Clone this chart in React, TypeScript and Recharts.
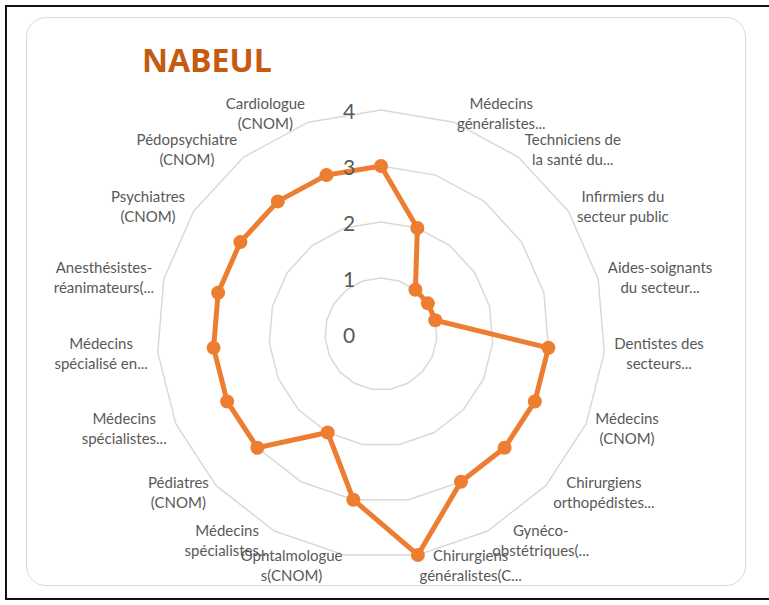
import React from "react";
import {
  RadarChart,
  Radar,
  PolarGrid,
  PolarAngleAxis,
  PolarRadiusAxis,
} from "recharts";

// categories clockwise from the top; "\n" marks where the label wraps
const categories = [
  "",
  "Médecins\ngénéralistes...",
  "Techniciens de\nla santé du...",
  "Infirmiers du\nsecteur public",
  "Aides-soignants\ndu secteur...",
  "Dentistes des\nsecteurs...",
  "Médecins\n(CNOM)",
  "Chirurgiens\northopédistes...",
  "Gynéco-\nobstétriques(...",
  "Chirurgiens\ngénéralistes(C...",
  "Ophtalmologue\ns(CNOM)",
  "Médecins\nspécialistes...",
  "Pédiatres\n(CNOM)",
  "Médecins\nspécialistes...",
  "Médecins\nspécialisé en...",
  "Anesthésistes-\nréanimateurs(...",
  "Psychiatres\n(CNOM)",
  "Pédopsychiatre\n(CNOM)",
  "Cardiologue\n(CNOM)",
];

const scores = [3, 2, 1, 1, 1, 3, 3, 3, 3, 4, 3, 2, 3, 3, 3, 3, 3, 3, 3];

const radiusTicks = [0, 1, 2, 3, 4];

const title = "NABEUL";

// idx keeps the two identical "Médecins spécialistes..." labels apart
const chartData = categories.map((name, i) => ({ idx: i, name, value: scores[i] }));

const CX = 381;
const CY = 334;
const OUTER = 224;
const LABEL_R = 234;
const LABEL_FONT = "15px Lato";
const LINE_H = 20;
const ORANGE = "#ED7D31";

let ctx: CanvasRenderingContext2D | null = null;
function textWidth(s: string): number {
  if (!ctx) ctx = document.createElement("canvas").getContext("2d");
  if (!ctx) return s.length * 7;
  ctx.font = LABEL_FONT;
  return ctx.measureText(s).width;
}

// excel-like placement: box sits beside the point on a circle, lines centred in it
function AngleTick(props: any) {
  const { x, y, payload } = props;
  const text: string = categories[Number(payload?.value)] ?? "";
  if (!text) return null;
  const ang = Math.atan2(-(y - CY), x - CX);
  const px = CX + LABEL_R * Math.cos(ang);
  const py = CY - LABEL_R * Math.sin(ang);
  const c = Math.cos(ang);
  const side = c > 0.02 ? 1 : c < -0.02 ? -1 : 0;
  const lines = text.split("\n");
  const w = Math.max(...lines.map(textWidth));
  const bx = px + (side * w) / 2;
  const top = py - ((lines.length - 1) * LINE_H) / 2;
  return (
    <g>
      {lines.map((ln, i) => (
        <text
          key={i}
          x={bx}
          y={top + i * LINE_H}
          textAnchor="middle"
          dominantBaseline="central"
          fill="#595959"
          style={{ font: LABEL_FONT }}
        >
          {ln}
        </text>
      ))}
    </g>
  );
}

function RadiusTick(props: any) {
  const { x, y, payload } = props;
  return (
    <text
      x={x - 32}
      y={y}
      textAnchor="middle"
      dominantBaseline="central"
      fill="#595959"
      fontSize={21}
      fontFamily="Lato"
    >
      {payload.value}
    </text>
  );
}

function Dot(props: any) {
  const { cx, cy } = props;
  return <circle cx={cx} cy={cy} r={7} fill={ORANGE} />;
}

export default function App() {
  return (
    <div
      style={{
        position: "fixed",
        left: 0,
        top: 0,
        width: 769,
        height: 605,
        background: "#fff",
        overflow: "hidden",
      }}
    >
      <div
        style={{
          position: "absolute",
          left: 5,
          top: 5,
          width: 780,
          height: 595,
          border: "2px solid #111",
          boxSizing: "border-box",
        }}
      />
      <div
        style={{
          position: "absolute",
          left: 26,
          top: 17,
          width: 720,
          height: 569,
          border: "1px solid #d9d9d9",
          borderRadius: 20,
          boxSizing: "border-box",
          background: "#fff",
        }}
      />
      <div style={{ position: "absolute", left: 0, top: 0 }}>
        <RadarChart
          width={769}
          height={605}
          data={chartData}
          cx={CX}
          cy={CY}
          outerRadius={OUTER}
          startAngle={90}
          endAngle={-270}
        >
          <PolarGrid gridType="polygon" radialLines={false} stroke="#d9d9d9" strokeWidth={1.5} />
          <PolarAngleAxis
            dataKey="idx"
            tick={<AngleTick />}
            tickLine={false}
            axisLine={false}
          />
          <PolarRadiusAxis
            angle={90}
            domain={[0, 4]}
            ticks={radiusTicks as any}
            tickCount={5}
            tick={<RadiusTick />}
            axisLine={false}
            tickLine={false}
          />
          <Radar
            dataKey="value"
            stroke={ORANGE}
            strokeWidth={5}
            fill="none"
            fillOpacity={0}
            dot={(p: any) => <Dot key={p.key ?? p.index} {...p} />}
            isAnimationActive={false}
          />
        </RadarChart>
      </div>
      <svg
        width={769}
        height={605}
        style={{ position: "absolute", left: 0, top: 0, pointerEvents: "none" }}
      >
        <text
          x={142}
          y={72}
          fill="#C55A11"
          fontFamily="'Open Sans'"
          fontWeight={700}
          fontSize={32}
        >
          {title}
        </text>
      </svg>
    </div>
  );
}
